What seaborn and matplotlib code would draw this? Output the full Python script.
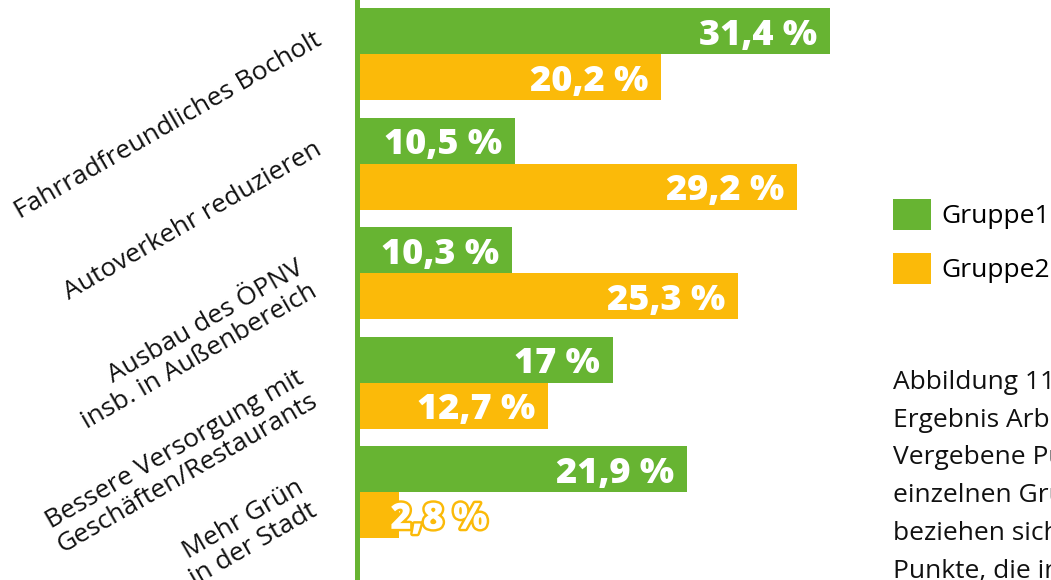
import matplotlib
matplotlib.use("Agg")
import matplotlib.pyplot as plt
import matplotlib.patheffects as pe
from matplotlib import transforms
from matplotlib.patches import Patch
import pandas as pd
import seaborn as sns

# data
categories = [
    "Fahrradfreundliches Bocholt",
    "Autoverkehr reduzieren",
    "Ausbau des ÖPNV\ninsb. in Außenbereich",
    "Bessere Versorgung mit\nGeschäften/Restaurants",
    "Mehr Grün\nin der Stadt",
]
groups = ["Gruppe1", "Gruppe2"]
gruppe1 = [31.4, 10.5, 10.3, 17.0, 21.9]
gruppe2 = [20.2, 29.2, 25.3, 12.7, 2.8]
caption_lines = [
    "Abbildung 11:",
    "Ergebnis Arbeitsgruppen",
    "Vergebene Punkte der",
    "einzelnen Gruppen, Werte",
    "beziehen sich auf alle",
    "Punkte, die in der Gruppe",
]

GREEN = "#67b432"
YELLOW = "#fbba09"
palette = {"Gruppe1": GREEN, "Gruppe2": YELLOW}

df = pd.DataFrame(
    {
        "Kategorie": categories * 2,
        "Gruppe": [groups[0]] * len(categories) + [groups[1]] * len(categories),
        "Anteil": gruppe1 + gruppe2,
    }
)

W, H = 1051, 580
fig = plt.figure(figsize=(W / 100, H / 100), dpi=100)
ax_left, ax_right = 356.5, 860
ax = fig.add_axes([ax_left / W, 0, (ax_right - ax_left) / W, 1])

sns.barplot(
    data=df,
    y="Kategorie",
    x="Anteil",
    hue="Gruppe",
    order=categories,
    hue_order=groups,
    palette=palette,
    orient="h",
    width=0.84,
    saturation=1,
    legend=False,
    ax=ax,
)

ax.set_xlim(0, (ax_right - ax_left) / 15.07)
ax.set_ylim(4.80, -0.493)

# axis look: only a green left spine
for side in ["top", "right", "bottom"]:
    ax.spines[side].set_visible(False)
ax.spines["left"].set_color(GREEN)
ax.spines["left"].set_linewidth(3.6)
ax.spines["left"].set_zorder(5)
ax.set_xticks([])
ax.set_yticks([])
ax.set_xlabel("")
ax.set_ylabel("")

# rotated category labels
for i, cat in enumerate(categories):
    if "\n" in cat:
        dx, dy = -48, -5
    else:
        dx, dy = -37, 16
    tr = transforms.offset_copy(ax.get_yaxis_transform(), fig=fig, x=dx, y=dy, units="dots")
    ax.text(
        0, i, cat,
        transform=tr,
        rotation=30,
        rotation_mode="anchor",
        ha="right",
        va="center",
        multialignment="right",
        fontsize=19,
        family="Open Sans",
        color="#111111",
        linespacing=1.1,
        clip_on=False,
    )

# value labels inside bar ends
for container in ax.containers:
    for rect in container:
        v = rect.get_width()
        y = rect.get_y() + rect.get_height() / 2
        txt = f"{v:g}".replace(".", ",") + " %"
        color = rect.get_facecolor()
        if v < 5:
            t = ax.annotate(
                txt, (v, y), xytext=(-6, 0), textcoords="offset points",
                ha="left", va="center_baseline", color="white",
                fontsize=26, fontweight="heavy", family="Open Sans",
            )
            t.set_path_effects([pe.withStroke(linewidth=3.5, foreground=color)])
        else:
            ax.annotate(
                txt, (v, y), xytext=(-9, 0), textcoords="offset points",
                ha="right", va="center_baseline", color="white",
                fontsize=26, fontweight="heavy", family="Open Sans",
            )

# legend
handles = [Patch(facecolor=palette[g], edgecolor="none") for g in groups]
fig.legend(
    handles, groups,
    loc="upper left",
    bbox_to_anchor=(893 / W, 1 - 199 / H),
    frameon=False,
    borderpad=0,
    borderaxespad=0,
    handlelength=1.45,
    handleheight=1.45,
    handletextpad=0.4,
    labelspacing=0.85,
    prop={"family": "Open Sans", "size": 19},
)

# caption, cut by the figure edge like in the source
fig.text(
    893 / W, 1 - 370 / H, "\n".join(caption_lines),
    ha="left", va="top", fontsize=19, family="Open Sans",
    color="#111111", linespacing=1.67,
)

fig.savefig("out.png", dpi=100)
